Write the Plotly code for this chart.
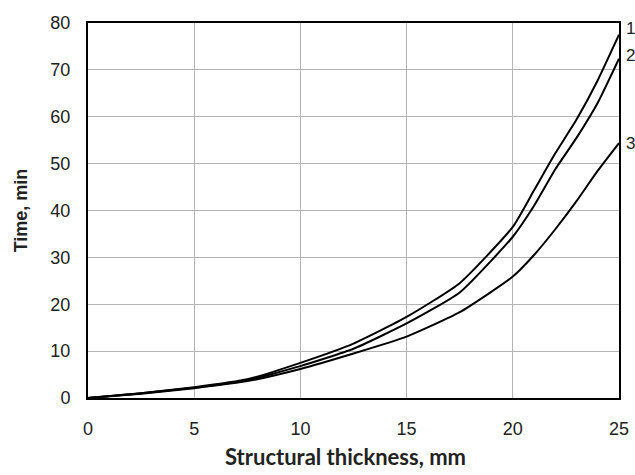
import plotly.graph_objects as go

thickness = [0, 2.5, 5, 7.5, 10, 12.5, 15, 17.5, 20, 21, 22, 23, 24, 25]
time_1 = [0, 1.0, 2.3, 4.0, 7.5, 11.6, 17.3, 24.5, 36.5, 44.3, 52.2, 59.4, 67.8, 77.5]
time_2 = [0, 1.0, 2.2, 3.8, 6.8, 10.5, 15.9, 22.5, 34.4, 41.0, 48.8, 55.5, 63.0, 72.4]
time_3 = [0, 0.9, 2.1, 3.6, 6.2, 9.5, 13.1, 18.3, 25.9, 30.5, 36.0, 42.0, 48.5, 54.4]
series = [("1", time_1), ("2", time_2), ("3", time_3)]
label_y = {"1": 78.8, "2": 73.1, "3": 54.3}

x_ticks = [0, 5, 10, 15, 20, 25]
y_ticks = [0, 10, 20, 30, 40, 50, 60, 70, 80]

FONT = "Arial, Liberation Sans, sans-serif"

fig = go.Figure()
for name, vals in series:
    fig.add_trace(go.Scatter(
        x=thickness, y=vals, mode="lines", name=name,
        line=dict(color="black", width=2, shape="spline", smoothing=0.5),
        showlegend=False, hoverinfo="x+y",
    ))
    fig.add_annotation(
        x=25, y=label_y[name], xref="x", yref="y", text=name,
        showarrow=False, xanchor="left", yanchor="middle", xshift=5,
        font=dict(family=FONT, size=17, color="#222"),
    )

fig.add_annotation(
    x=0.484, y=-0.155, xref="paper", yref="paper",
    text="<b>Structural thickness, mm</b>", showarrow=False,
    xanchor="center", yanchor="middle",
    font=dict(family="Lato, Open Sans, sans-serif", size=22, color="#222"),
)

fig.update_layout(
    width=635, height=475,
    margin=dict(l=88, r=16, t=23, b=77, autoexpand=False),
    paper_bgcolor="white", plot_bgcolor="white",
    font=dict(family=FONT, size=18, color="#222"),
)
fig.update_xaxes(
    range=[0, 25], tickvals=x_ticks, showgrid=True, gridcolor="#b4b4b4", gridwidth=1,
    zeroline=False, showline=True, linecolor="black", linewidth=2, mirror=True,
    ticks="", ticklabelstandoff=13, tickfont=dict(family=FONT, size=18, color="#222"),
)
fig.update_yaxes(
    range=[0, 80], tickvals=y_ticks, showgrid=True, gridcolor="#b4b4b4", gridwidth=1,
    zeroline=False, showline=True, linecolor="black", linewidth=2, mirror=True,
    ticks="", ticklabelstandoff=12, tickfont=dict(family=FONT, size=18, color="#222"),
    title=dict(text="<b>Time, min</b>", standoff=18,
               font=dict(family=FONT, size=18, color="#222")),
)

fig.write_html("out.html", config={"displayModeBar": False},
               post_script="document.body.style.margin='0';")
